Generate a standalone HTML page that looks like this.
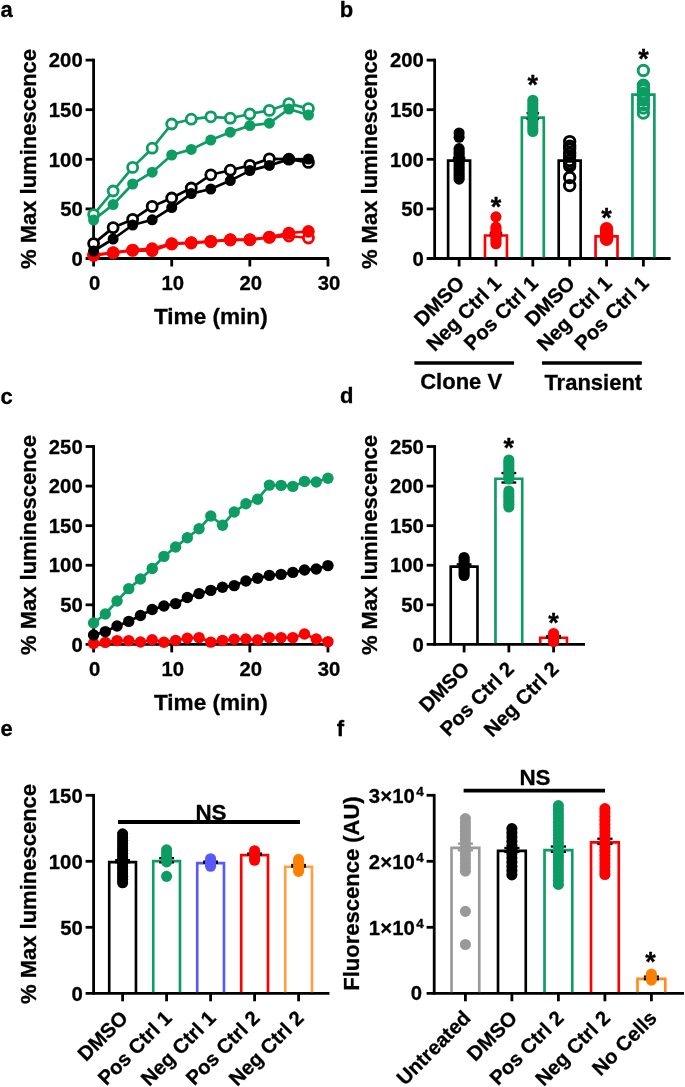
<!DOCTYPE html>
<html lang="en">
<head>
<meta charset="utf-8">
<title>Figure</title>
<style>
html,body{margin:0;padding:0;background:#fff;}
body{width:685px;height:1087px;overflow:hidden;}
svg{display:block;}
svg text{font-family:"Liberation Sans", Arial, Helvetica, sans-serif;font-weight:bold;fill:#000;stroke:#000;stroke-width:0.3px;stroke-linejoin:round;}
</style>
</head>
<body>
<svg width="685" height="1087" viewBox="0 0 685 1087">
<rect width="685" height="1087" fill="#fff"/>
<text x="0.40" y="17.40" font-size="22" text-anchor="start">a</text>
<text x="339.70" y="17.40" font-size="22" text-anchor="start">b</text>
<text x="0.60" y="403.60" font-size="22" text-anchor="start">c</text>
<text x="340.10" y="403.20" font-size="22" text-anchor="start">d</text>
<text x="0.60" y="736.40" font-size="22" text-anchor="start">e</text>
<text x="336.80" y="735.80" font-size="22" text-anchor="start">f</text>
<line x1="93.60" y1="58.70" x2="93.60" y2="259.90" stroke="#000000" stroke-width="2.8" stroke-linecap="butt"/>
<line x1="85.60" y1="258.50" x2="328.90" y2="258.50" stroke="#000000" stroke-width="2.8" stroke-linecap="butt"/>
<text x="82.70" y="265.70" font-size="20.3" text-anchor="end">0</text>
<line x1="85.60" y1="208.90" x2="93.60" y2="208.90" stroke="#000000" stroke-width="2.8" stroke-linecap="butt"/>
<text x="82.70" y="216.10" font-size="20.3" text-anchor="end">50</text>
<line x1="85.60" y1="159.30" x2="93.60" y2="159.30" stroke="#000000" stroke-width="2.8" stroke-linecap="butt"/>
<text x="82.70" y="166.50" font-size="20.3" text-anchor="end">100</text>
<line x1="85.60" y1="109.70" x2="93.60" y2="109.70" stroke="#000000" stroke-width="2.8" stroke-linecap="butt"/>
<text x="82.70" y="116.90" font-size="20.3" text-anchor="end">150</text>
<line x1="85.60" y1="60.10" x2="93.60" y2="60.10" stroke="#000000" stroke-width="2.8" stroke-linecap="butt"/>
<text x="82.70" y="67.30" font-size="20.3" text-anchor="end">200</text>
<line x1="93.60" y1="258.50" x2="93.60" y2="266.50" stroke="#000000" stroke-width="2.8" stroke-linecap="butt"/>
<text x="94.60" y="289.80" font-size="20.3" text-anchor="middle">0</text>
<line x1="171.72" y1="258.50" x2="171.72" y2="266.50" stroke="#000000" stroke-width="2.8" stroke-linecap="butt"/>
<text x="172.72" y="289.80" font-size="20.3" text-anchor="middle">10</text>
<line x1="249.84" y1="258.50" x2="249.84" y2="266.50" stroke="#000000" stroke-width="2.8" stroke-linecap="butt"/>
<text x="250.84" y="289.80" font-size="20.3" text-anchor="middle">20</text>
<line x1="327.96" y1="258.50" x2="327.96" y2="266.50" stroke="#000000" stroke-width="2.8" stroke-linecap="butt"/>
<text x="328.96" y="289.80" font-size="20.3" text-anchor="middle">30</text>
<text x="36.20" y="159.00" font-size="22" text-anchor="middle" transform="rotate(-90 36.20 159.00)">% Max luminescence</text>
<text x="210.80" y="323.80" font-size="22.6" text-anchor="middle">Time (min)</text>
<polyline points="93.60,255.40 113.13,252.80 132.66,250.40 152.19,250.60 171.72,244.00 191.25,243.00 210.78,241.60 230.31,240.00 249.84,239.80 269.37,237.40 288.90,236.00 308.43,238.00" fill="none" stroke="#ff0000" stroke-width="2.7" stroke-linejoin="round"/>
<circle cx="93.60" cy="255.40" r="5.0" fill="#fff" stroke="#ff0000" stroke-width="2.8"/>
<circle cx="113.13" cy="252.80" r="5.0" fill="#fff" stroke="#ff0000" stroke-width="2.8"/>
<circle cx="132.66" cy="250.40" r="5.0" fill="#fff" stroke="#ff0000" stroke-width="2.8"/>
<circle cx="152.19" cy="250.60" r="5.0" fill="#fff" stroke="#ff0000" stroke-width="2.8"/>
<circle cx="171.72" cy="244.00" r="5.0" fill="#fff" stroke="#ff0000" stroke-width="2.8"/>
<circle cx="191.25" cy="243.00" r="5.0" fill="#fff" stroke="#ff0000" stroke-width="2.8"/>
<circle cx="210.78" cy="241.60" r="5.0" fill="#fff" stroke="#ff0000" stroke-width="2.8"/>
<circle cx="230.31" cy="240.00" r="5.0" fill="#fff" stroke="#ff0000" stroke-width="2.8"/>
<circle cx="249.84" cy="239.80" r="5.0" fill="#fff" stroke="#ff0000" stroke-width="2.8"/>
<circle cx="269.37" cy="237.40" r="5.0" fill="#fff" stroke="#ff0000" stroke-width="2.8"/>
<circle cx="288.90" cy="236.00" r="5.0" fill="#fff" stroke="#ff0000" stroke-width="2.8"/>
<circle cx="308.43" cy="238.00" r="5.0" fill="#fff" stroke="#ff0000" stroke-width="2.8"/>
<polyline points="93.60,255.00 113.13,252.60 132.66,250.00 152.19,248.60 171.72,243.60 191.25,242.60 210.78,241.30 230.31,239.60 249.84,239.60 269.37,237.00 288.90,233.00 308.43,231.40" fill="none" stroke="#ff0000" stroke-width="2.7" stroke-linejoin="round"/>
<circle cx="93.60" cy="255.00" r="6.3" fill="#ff0000"/>
<circle cx="113.13" cy="252.60" r="6.3" fill="#ff0000"/>
<circle cx="132.66" cy="250.00" r="6.3" fill="#ff0000"/>
<circle cx="152.19" cy="248.60" r="6.3" fill="#ff0000"/>
<circle cx="171.72" cy="243.60" r="6.3" fill="#ff0000"/>
<circle cx="191.25" cy="242.60" r="6.3" fill="#ff0000"/>
<circle cx="210.78" cy="241.30" r="6.3" fill="#ff0000"/>
<circle cx="230.31" cy="239.60" r="6.3" fill="#ff0000"/>
<circle cx="249.84" cy="239.60" r="6.3" fill="#ff0000"/>
<circle cx="269.37" cy="237.00" r="6.3" fill="#ff0000"/>
<circle cx="288.90" cy="233.00" r="6.3" fill="#ff0000"/>
<circle cx="308.43" cy="231.40" r="6.3" fill="#ff0000"/>
<polyline points="93.60,243.60 113.13,227.60 132.66,219.40 152.19,206.40 171.72,198.00 191.25,188.00 210.78,174.80 230.31,170.20 249.84,165.40 269.37,158.80 288.90,159.20 308.43,162.40" fill="none" stroke="#000000" stroke-width="2.7" stroke-linejoin="round"/>
<circle cx="93.60" cy="243.60" r="5.0" fill="#fff" stroke="#000000" stroke-width="2.8"/>
<circle cx="113.13" cy="227.60" r="5.0" fill="#fff" stroke="#000000" stroke-width="2.8"/>
<circle cx="132.66" cy="219.40" r="5.0" fill="#fff" stroke="#000000" stroke-width="2.8"/>
<circle cx="152.19" cy="206.40" r="5.0" fill="#fff" stroke="#000000" stroke-width="2.8"/>
<circle cx="171.72" cy="198.00" r="5.0" fill="#fff" stroke="#000000" stroke-width="2.8"/>
<circle cx="191.25" cy="188.00" r="5.0" fill="#fff" stroke="#000000" stroke-width="2.8"/>
<circle cx="210.78" cy="174.80" r="5.0" fill="#fff" stroke="#000000" stroke-width="2.8"/>
<circle cx="230.31" cy="170.20" r="5.0" fill="#fff" stroke="#000000" stroke-width="2.8"/>
<circle cx="249.84" cy="165.40" r="5.0" fill="#fff" stroke="#000000" stroke-width="2.8"/>
<circle cx="269.37" cy="158.80" r="5.0" fill="#fff" stroke="#000000" stroke-width="2.8"/>
<circle cx="288.90" cy="159.20" r="5.0" fill="#fff" stroke="#000000" stroke-width="2.8"/>
<circle cx="308.43" cy="162.40" r="5.0" fill="#fff" stroke="#000000" stroke-width="2.8"/>
<polyline points="93.60,251.00 113.13,239.00 132.66,225.00 152.19,219.80 171.72,207.60 191.25,193.60 210.78,189.00 230.31,180.60 249.84,170.60 269.37,165.40 288.90,159.40 308.43,159.00" fill="none" stroke="#000000" stroke-width="2.7" stroke-linejoin="round"/>
<circle cx="93.60" cy="251.00" r="5.5" fill="#000000"/>
<circle cx="113.13" cy="239.00" r="5.5" fill="#000000"/>
<circle cx="132.66" cy="225.00" r="5.5" fill="#000000"/>
<circle cx="152.19" cy="219.80" r="5.5" fill="#000000"/>
<circle cx="171.72" cy="207.60" r="5.5" fill="#000000"/>
<circle cx="191.25" cy="193.60" r="5.5" fill="#000000"/>
<circle cx="210.78" cy="189.00" r="5.5" fill="#000000"/>
<circle cx="230.31" cy="180.60" r="5.5" fill="#000000"/>
<circle cx="249.84" cy="170.60" r="5.5" fill="#000000"/>
<circle cx="269.37" cy="165.40" r="5.5" fill="#000000"/>
<circle cx="288.90" cy="159.40" r="5.5" fill="#000000"/>
<circle cx="308.43" cy="159.00" r="5.5" fill="#000000"/>
<polyline points="93.60,214.60 113.13,191.00 132.66,167.40 152.19,148.20 171.72,124.00 191.25,119.20 210.78,116.80 230.31,118.20 249.84,114.00 269.37,110.40 288.90,103.60 308.43,108.60" fill="none" stroke="#0d9c64" stroke-width="2.7" stroke-linejoin="round"/>
<circle cx="93.60" cy="214.60" r="5.0" fill="#fff" stroke="#0d9c64" stroke-width="2.8"/>
<circle cx="113.13" cy="191.00" r="5.0" fill="#fff" stroke="#0d9c64" stroke-width="2.8"/>
<circle cx="132.66" cy="167.40" r="5.0" fill="#fff" stroke="#0d9c64" stroke-width="2.8"/>
<circle cx="152.19" cy="148.20" r="5.0" fill="#fff" stroke="#0d9c64" stroke-width="2.8"/>
<circle cx="171.72" cy="124.00" r="5.0" fill="#fff" stroke="#0d9c64" stroke-width="2.8"/>
<circle cx="191.25" cy="119.20" r="5.0" fill="#fff" stroke="#0d9c64" stroke-width="2.8"/>
<circle cx="210.78" cy="116.80" r="5.0" fill="#fff" stroke="#0d9c64" stroke-width="2.8"/>
<circle cx="230.31" cy="118.20" r="5.0" fill="#fff" stroke="#0d9c64" stroke-width="2.8"/>
<circle cx="249.84" cy="114.00" r="5.0" fill="#fff" stroke="#0d9c64" stroke-width="2.8"/>
<circle cx="269.37" cy="110.40" r="5.0" fill="#fff" stroke="#0d9c64" stroke-width="2.8"/>
<circle cx="288.90" cy="103.60" r="5.0" fill="#fff" stroke="#0d9c64" stroke-width="2.8"/>
<circle cx="308.43" cy="108.60" r="5.0" fill="#fff" stroke="#0d9c64" stroke-width="2.8"/>
<polyline points="93.60,220.00 113.13,204.60 132.66,184.00 152.19,172.20 171.72,155.00 191.25,149.40 210.78,140.00 230.31,132.20 249.84,125.60 269.37,123.20 288.90,109.00 308.43,115.00" fill="none" stroke="#0d9c64" stroke-width="2.7" stroke-linejoin="round"/>
<circle cx="93.60" cy="220.00" r="5.5" fill="#0d9c64"/>
<circle cx="113.13" cy="204.60" r="5.5" fill="#0d9c64"/>
<circle cx="132.66" cy="184.00" r="5.5" fill="#0d9c64"/>
<circle cx="152.19" cy="172.20" r="5.5" fill="#0d9c64"/>
<circle cx="171.72" cy="155.00" r="5.5" fill="#0d9c64"/>
<circle cx="191.25" cy="149.40" r="5.5" fill="#0d9c64"/>
<circle cx="210.78" cy="140.00" r="5.5" fill="#0d9c64"/>
<circle cx="230.31" cy="132.20" r="5.5" fill="#0d9c64"/>
<circle cx="249.84" cy="125.60" r="5.5" fill="#0d9c64"/>
<circle cx="269.37" cy="123.20" r="5.5" fill="#0d9c64"/>
<circle cx="288.90" cy="109.00" r="5.5" fill="#0d9c64"/>
<circle cx="308.43" cy="115.00" r="5.5" fill="#0d9c64"/>
<line x1="434.65" y1="58.70" x2="434.65" y2="259.90" stroke="#000000" stroke-width="2.8" stroke-linecap="butt"/>
<line x1="426.65" y1="258.50" x2="670.60" y2="258.50" stroke="#000000" stroke-width="2.8" stroke-linecap="butt"/>
<text x="423.90" y="265.70" font-size="20.3" text-anchor="end">0</text>
<line x1="426.65" y1="208.90" x2="434.65" y2="208.90" stroke="#000000" stroke-width="2.8" stroke-linecap="butt"/>
<text x="423.90" y="216.10" font-size="20.3" text-anchor="end">50</text>
<line x1="426.65" y1="159.30" x2="434.65" y2="159.30" stroke="#000000" stroke-width="2.8" stroke-linecap="butt"/>
<text x="423.90" y="166.50" font-size="20.3" text-anchor="end">100</text>
<line x1="426.65" y1="109.70" x2="434.65" y2="109.70" stroke="#000000" stroke-width="2.8" stroke-linecap="butt"/>
<text x="423.90" y="116.90" font-size="20.3" text-anchor="end">150</text>
<line x1="426.65" y1="60.10" x2="434.65" y2="60.10" stroke="#000000" stroke-width="2.8" stroke-linecap="butt"/>
<text x="423.90" y="67.30" font-size="20.3" text-anchor="end">200</text>
<line x1="459.10" y1="258.50" x2="459.10" y2="266.50" stroke="#000000" stroke-width="2.8" stroke-linecap="butt"/>
<line x1="495.96" y1="258.50" x2="495.96" y2="266.50" stroke="#000000" stroke-width="2.8" stroke-linecap="butt"/>
<line x1="532.82" y1="258.50" x2="532.82" y2="266.50" stroke="#000000" stroke-width="2.8" stroke-linecap="butt"/>
<line x1="569.68" y1="258.50" x2="569.68" y2="266.50" stroke="#000000" stroke-width="2.8" stroke-linecap="butt"/>
<line x1="606.54" y1="258.50" x2="606.54" y2="266.50" stroke="#000000" stroke-width="2.8" stroke-linecap="butt"/>
<line x1="643.40" y1="258.50" x2="643.40" y2="266.50" stroke="#000000" stroke-width="2.8" stroke-linecap="butt"/>
<text x="377.20" y="159.00" font-size="22" text-anchor="middle" transform="rotate(-90 377.20 159.00)">% Max luminescence</text>
<path d="M448.12 257.40 V160.62 H470.08 V257.40" fill="none" stroke="#000000" stroke-width="2.65"/>
<line x1="459.10" y1="160.29" x2="459.10" y2="157.91" stroke="#000000" stroke-width="2.3" stroke-linecap="butt"/>
<line x1="452.85" y1="160.29" x2="465.35" y2="160.29" stroke="#000000" stroke-width="2.3" stroke-linecap="butt"/>
<line x1="452.85" y1="157.91" x2="465.35" y2="157.91" stroke="#000000" stroke-width="2.3" stroke-linecap="butt"/>
<circle cx="459.10" cy="133.01" r="5.55" fill="#000000"/>
<circle cx="459.10" cy="137.28" r="5.55" fill="#000000"/>
<circle cx="459.10" cy="148.59" r="5.55" fill="#000000"/>
<circle cx="459.10" cy="150.94" r="5.55" fill="#000000"/>
<circle cx="459.10" cy="153.29" r="5.55" fill="#000000"/>
<circle cx="459.10" cy="155.64" r="5.55" fill="#000000"/>
<circle cx="459.10" cy="157.99" r="5.55" fill="#000000"/>
<circle cx="459.10" cy="160.34" r="5.55" fill="#000000"/>
<circle cx="459.10" cy="162.69" r="5.55" fill="#000000"/>
<circle cx="459.10" cy="165.04" r="5.55" fill="#000000"/>
<circle cx="459.10" cy="167.39" r="5.55" fill="#000000"/>
<circle cx="459.10" cy="169.74" r="5.55" fill="#000000"/>
<circle cx="459.10" cy="172.09" r="5.55" fill="#000000"/>
<circle cx="459.10" cy="174.44" r="5.55" fill="#000000"/>
<circle cx="459.10" cy="176.79" r="5.55" fill="#000000"/>
<circle cx="459.10" cy="179.14" r="5.55" fill="#000000"/>
<path d="M484.99 257.40 V235.52 H506.94 V257.40" fill="none" stroke="#ff0000" stroke-width="2.65"/>
<line x1="495.96" y1="235.19" x2="495.96" y2="232.81" stroke="#000000" stroke-width="2.3" stroke-linecap="butt"/>
<line x1="489.71" y1="235.19" x2="502.21" y2="235.19" stroke="#000000" stroke-width="2.3" stroke-linecap="butt"/>
<line x1="489.71" y1="232.81" x2="502.21" y2="232.81" stroke="#000000" stroke-width="2.3" stroke-linecap="butt"/>
<circle cx="495.96" cy="216.84" r="5.55" fill="#ff0000"/>
<circle cx="495.96" cy="227.15" r="5.55" fill="#ff0000"/>
<circle cx="495.96" cy="229.53" r="5.55" fill="#ff0000"/>
<circle cx="495.96" cy="231.91" r="5.55" fill="#ff0000"/>
<circle cx="495.96" cy="234.30" r="5.55" fill="#ff0000"/>
<circle cx="495.96" cy="236.68" r="5.55" fill="#ff0000"/>
<circle cx="495.96" cy="239.06" r="5.55" fill="#ff0000"/>
<circle cx="495.96" cy="241.44" r="5.55" fill="#ff0000"/>
<circle cx="495.96" cy="243.82" r="5.55" fill="#ff0000"/>
<path d="M521.85 257.40 V117.57 H543.79 V257.40" fill="none" stroke="#0d9c64" stroke-width="2.65"/>
<line x1="532.82" y1="118.92" x2="532.82" y2="113.17" stroke="#000000" stroke-width="2.3" stroke-linecap="butt"/>
<line x1="526.57" y1="118.92" x2="539.07" y2="118.92" stroke="#000000" stroke-width="2.3" stroke-linecap="butt"/>
<line x1="526.57" y1="113.17" x2="539.07" y2="113.17" stroke="#000000" stroke-width="2.3" stroke-linecap="butt"/>
<circle cx="532.82" cy="100.28" r="5.55" fill="#0d9c64"/>
<circle cx="532.82" cy="103.12" r="5.55" fill="#0d9c64"/>
<circle cx="532.82" cy="105.96" r="5.55" fill="#0d9c64"/>
<circle cx="532.82" cy="108.80" r="5.55" fill="#0d9c64"/>
<circle cx="532.82" cy="111.64" r="5.55" fill="#0d9c64"/>
<circle cx="532.82" cy="114.48" r="5.55" fill="#0d9c64"/>
<circle cx="532.82" cy="117.32" r="5.55" fill="#0d9c64"/>
<circle cx="532.82" cy="120.16" r="5.55" fill="#0d9c64"/>
<circle cx="532.82" cy="123.00" r="5.55" fill="#0d9c64"/>
<circle cx="532.82" cy="125.84" r="5.55" fill="#0d9c64"/>
<circle cx="532.82" cy="128.68" r="5.55" fill="#0d9c64"/>
<circle cx="532.82" cy="131.52" r="5.55" fill="#0d9c64"/>
<path d="M558.71 257.40 V160.62 H580.65 V257.40" fill="none" stroke="#000000" stroke-width="2.65"/>
<line x1="569.68" y1="160.29" x2="569.68" y2="157.91" stroke="#000000" stroke-width="2.3" stroke-linecap="butt"/>
<line x1="563.43" y1="160.29" x2="575.93" y2="160.29" stroke="#000000" stroke-width="2.3" stroke-linecap="butt"/>
<line x1="563.43" y1="157.91" x2="575.93" y2="157.91" stroke="#000000" stroke-width="2.3" stroke-linecap="butt"/>
<circle cx="569.68" cy="141.60" r="5.25" fill="none" stroke="#000000" stroke-width="2.9"/>
<circle cx="569.68" cy="146.20" r="5.25" fill="none" stroke="#000000" stroke-width="2.9"/>
<circle cx="569.68" cy="148.70" r="5.25" fill="none" stroke="#000000" stroke-width="2.9"/>
<circle cx="569.68" cy="153.20" r="5.25" fill="none" stroke="#000000" stroke-width="2.9"/>
<circle cx="569.68" cy="156.00" r="5.25" fill="none" stroke="#000000" stroke-width="2.9"/>
<circle cx="569.68" cy="160.50" r="5.25" fill="none" stroke="#000000" stroke-width="2.9"/>
<circle cx="569.68" cy="163.50" r="5.25" fill="none" stroke="#000000" stroke-width="2.9"/>
<circle cx="569.68" cy="166.00" r="5.25" fill="none" stroke="#000000" stroke-width="2.9"/>
<circle cx="569.68" cy="177.50" r="5.25" fill="none" stroke="#000000" stroke-width="2.9"/>
<circle cx="569.68" cy="185.60" r="5.25" fill="none" stroke="#000000" stroke-width="2.9"/>
<path d="M595.57 257.40 V236.31 H617.51 V257.40" fill="none" stroke="#ff0000" stroke-width="2.65"/>
<line x1="606.54" y1="235.78" x2="606.54" y2="233.80" stroke="#000000" stroke-width="2.3" stroke-linecap="butt"/>
<line x1="600.29" y1="235.78" x2="612.79" y2="235.78" stroke="#000000" stroke-width="2.3" stroke-linecap="butt"/>
<line x1="600.29" y1="233.80" x2="612.79" y2="233.80" stroke="#000000" stroke-width="2.3" stroke-linecap="butt"/>
<circle cx="606.54" cy="228.70" r="5.25" fill="none" stroke="#ff0000" stroke-width="2.9"/>
<circle cx="606.54" cy="231.00" r="5.25" fill="none" stroke="#ff0000" stroke-width="2.9"/>
<circle cx="606.54" cy="233.00" r="5.25" fill="none" stroke="#ff0000" stroke-width="2.9"/>
<circle cx="606.54" cy="235.30" r="5.25" fill="none" stroke="#ff0000" stroke-width="2.9"/>
<circle cx="606.54" cy="237.20" r="5.25" fill="none" stroke="#ff0000" stroke-width="2.9"/>
<circle cx="606.54" cy="239.20" r="5.25" fill="none" stroke="#ff0000" stroke-width="2.9"/>
<path d="M632.43 257.40 V94.66 H654.38 V257.40" fill="none" stroke="#0d9c64" stroke-width="2.65"/>
<line x1="643.40" y1="94.62" x2="643.40" y2="91.64" stroke="#000000" stroke-width="2.3" stroke-linecap="butt"/>
<line x1="637.15" y1="94.62" x2="649.65" y2="94.62" stroke="#000000" stroke-width="2.3" stroke-linecap="butt"/>
<line x1="637.15" y1="91.64" x2="649.65" y2="91.64" stroke="#000000" stroke-width="2.3" stroke-linecap="butt"/>
<circle cx="643.40" cy="70.50" r="5.25" fill="none" stroke="#0d9c64" stroke-width="2.9"/>
<circle cx="643.40" cy="85.20" r="5.25" fill="none" stroke="#0d9c64" stroke-width="2.9"/>
<circle cx="643.40" cy="87.50" r="5.25" fill="none" stroke="#0d9c64" stroke-width="2.9"/>
<circle cx="643.40" cy="90.00" r="5.25" fill="none" stroke="#0d9c64" stroke-width="2.9"/>
<circle cx="643.40" cy="93.50" r="5.25" fill="none" stroke="#0d9c64" stroke-width="2.9"/>
<circle cx="643.40" cy="96.00" r="5.25" fill="none" stroke="#0d9c64" stroke-width="2.9"/>
<circle cx="643.40" cy="100.00" r="5.25" fill="none" stroke="#0d9c64" stroke-width="2.9"/>
<circle cx="643.40" cy="104.50" r="5.25" fill="none" stroke="#0d9c64" stroke-width="2.9"/>
<circle cx="643.40" cy="108.00" r="5.25" fill="none" stroke="#0d9c64" stroke-width="2.9"/>
<circle cx="643.40" cy="113.10" r="5.25" fill="none" stroke="#0d9c64" stroke-width="2.9"/>
<text x="495.96" y="215.50" font-size="27" text-anchor="middle">*</text>
<text x="532.82" y="93.70" font-size="27" text-anchor="middle">*</text>
<text x="606.54" y="226.70" font-size="27" text-anchor="middle">*</text>
<text x="643.40" y="67.80" font-size="27" text-anchor="middle">*</text>
<text x="465.60" y="284.50" font-size="20.3" text-anchor="end" transform="rotate(-45 465.60 284.50)">DMSO</text>
<text x="502.46" y="284.50" font-size="20.3" text-anchor="end" transform="rotate(-45 502.46 284.50)">Neg Ctrl 1</text>
<text x="539.32" y="284.50" font-size="20.3" text-anchor="end" transform="rotate(-45 539.32 284.50)">Pos Ctrl 1</text>
<text x="576.18" y="284.50" font-size="20.3" text-anchor="end" transform="rotate(-45 576.18 284.50)">DMSO</text>
<text x="613.04" y="284.50" font-size="20.3" text-anchor="end" transform="rotate(-45 613.04 284.50)">Neg Ctrl 1</text>
<text x="649.90" y="284.50" font-size="20.3" text-anchor="end" transform="rotate(-45 649.90 284.50)">Pos Ctrl 1</text>
<line x1="414.40" y1="363.00" x2="514.00" y2="363.00" stroke="#000000" stroke-width="3.6" stroke-linecap="butt"/>
<line x1="542.00" y1="363.00" x2="641.80" y2="363.00" stroke="#000000" stroke-width="3.6" stroke-linecap="butt"/>
<text x="461.20" y="389.20" font-size="22" text-anchor="middle">Clone V</text>
<text x="593.30" y="390.40" font-size="22" text-anchor="middle">Transient</text>
<line x1="93.60" y1="445.10" x2="93.60" y2="645.80" stroke="#000000" stroke-width="2.8" stroke-linecap="butt"/>
<line x1="85.60" y1="644.40" x2="328.90" y2="644.40" stroke="#000000" stroke-width="2.8" stroke-linecap="butt"/>
<text x="82.70" y="651.60" font-size="20.3" text-anchor="end">0</text>
<line x1="85.60" y1="604.82" x2="93.60" y2="604.82" stroke="#000000" stroke-width="2.8" stroke-linecap="butt"/>
<text x="82.70" y="612.02" font-size="20.3" text-anchor="end">50</text>
<line x1="85.60" y1="565.24" x2="93.60" y2="565.24" stroke="#000000" stroke-width="2.8" stroke-linecap="butt"/>
<text x="82.70" y="572.44" font-size="20.3" text-anchor="end">100</text>
<line x1="85.60" y1="525.66" x2="93.60" y2="525.66" stroke="#000000" stroke-width="2.8" stroke-linecap="butt"/>
<text x="82.70" y="532.86" font-size="20.3" text-anchor="end">150</text>
<line x1="85.60" y1="486.08" x2="93.60" y2="486.08" stroke="#000000" stroke-width="2.8" stroke-linecap="butt"/>
<text x="82.70" y="493.28" font-size="20.3" text-anchor="end">200</text>
<line x1="85.60" y1="446.50" x2="93.60" y2="446.50" stroke="#000000" stroke-width="2.8" stroke-linecap="butt"/>
<text x="82.70" y="453.70" font-size="20.3" text-anchor="end">250</text>
<line x1="93.60" y1="644.40" x2="93.60" y2="652.40" stroke="#000000" stroke-width="2.8" stroke-linecap="butt"/>
<text x="94.60" y="675.60" font-size="20.3" text-anchor="middle">0</text>
<line x1="171.72" y1="644.40" x2="171.72" y2="652.40" stroke="#000000" stroke-width="2.8" stroke-linecap="butt"/>
<text x="172.72" y="675.60" font-size="20.3" text-anchor="middle">10</text>
<line x1="249.84" y1="644.40" x2="249.84" y2="652.40" stroke="#000000" stroke-width="2.8" stroke-linecap="butt"/>
<text x="250.84" y="675.60" font-size="20.3" text-anchor="middle">20</text>
<line x1="327.96" y1="644.40" x2="327.96" y2="652.40" stroke="#000000" stroke-width="2.8" stroke-linecap="butt"/>
<text x="328.96" y="675.60" font-size="20.3" text-anchor="middle">30</text>
<text x="36.20" y="545.00" font-size="22" text-anchor="middle" transform="rotate(-90 36.20 545.00)">% Max luminescence</text>
<text x="210.80" y="710.20" font-size="22.6" text-anchor="middle">Time (min)</text>
<polyline points="93.60,643.40 105.32,642.40 117.04,640.60 128.75,640.60 140.47,642.00 152.19,639.80 163.91,642.20 175.63,640.40 187.34,638.20 199.06,637.60 210.78,642.10 222.50,640.40 234.22,639.30 245.93,639.00 257.65,640.00 269.37,637.60 281.09,637.60 292.81,637.60 304.52,634.00 316.24,639.00 327.96,641.60" fill="none" stroke="#ff0000" stroke-width="2.7" stroke-linejoin="round"/>
<circle cx="93.60" cy="643.40" r="5.7" fill="#ff0000"/>
<circle cx="105.32" cy="642.40" r="5.7" fill="#ff0000"/>
<circle cx="117.04" cy="640.60" r="5.7" fill="#ff0000"/>
<circle cx="128.75" cy="640.60" r="5.7" fill="#ff0000"/>
<circle cx="140.47" cy="642.00" r="5.7" fill="#ff0000"/>
<circle cx="152.19" cy="639.80" r="5.7" fill="#ff0000"/>
<circle cx="163.91" cy="642.20" r="5.7" fill="#ff0000"/>
<circle cx="175.63" cy="640.40" r="5.7" fill="#ff0000"/>
<circle cx="187.34" cy="638.20" r="5.7" fill="#ff0000"/>
<circle cx="199.06" cy="637.60" r="5.7" fill="#ff0000"/>
<circle cx="210.78" cy="642.10" r="5.7" fill="#ff0000"/>
<circle cx="222.50" cy="640.40" r="5.7" fill="#ff0000"/>
<circle cx="234.22" cy="639.30" r="5.7" fill="#ff0000"/>
<circle cx="245.93" cy="639.00" r="5.7" fill="#ff0000"/>
<circle cx="257.65" cy="640.00" r="5.7" fill="#ff0000"/>
<circle cx="269.37" cy="637.60" r="5.7" fill="#ff0000"/>
<circle cx="281.09" cy="637.60" r="5.7" fill="#ff0000"/>
<circle cx="292.81" cy="637.60" r="5.7" fill="#ff0000"/>
<circle cx="304.52" cy="634.00" r="5.7" fill="#ff0000"/>
<circle cx="316.24" cy="639.00" r="5.7" fill="#ff0000"/>
<circle cx="327.96" cy="641.60" r="5.7" fill="#ff0000"/>
<polyline points="93.60,635.00 105.32,631.60 117.04,626.00 128.75,621.40 140.47,615.50 152.19,609.50 163.91,606.00 175.63,603.60 187.34,597.50 199.06,593.60 210.78,590.40 222.50,587.20 234.22,585.60 245.93,581.00 257.65,578.20 269.37,575.40 281.09,574.40 292.81,572.40 304.52,570.00 316.24,569.00 327.96,565.60" fill="none" stroke="#000000" stroke-width="2.7" stroke-linejoin="round"/>
<circle cx="93.60" cy="635.00" r="5.7" fill="#000000"/>
<circle cx="105.32" cy="631.60" r="5.7" fill="#000000"/>
<circle cx="117.04" cy="626.00" r="5.7" fill="#000000"/>
<circle cx="128.75" cy="621.40" r="5.7" fill="#000000"/>
<circle cx="140.47" cy="615.50" r="5.7" fill="#000000"/>
<circle cx="152.19" cy="609.50" r="5.7" fill="#000000"/>
<circle cx="163.91" cy="606.00" r="5.7" fill="#000000"/>
<circle cx="175.63" cy="603.60" r="5.7" fill="#000000"/>
<circle cx="187.34" cy="597.50" r="5.7" fill="#000000"/>
<circle cx="199.06" cy="593.60" r="5.7" fill="#000000"/>
<circle cx="210.78" cy="590.40" r="5.7" fill="#000000"/>
<circle cx="222.50" cy="587.20" r="5.7" fill="#000000"/>
<circle cx="234.22" cy="585.60" r="5.7" fill="#000000"/>
<circle cx="245.93" cy="581.00" r="5.7" fill="#000000"/>
<circle cx="257.65" cy="578.20" r="5.7" fill="#000000"/>
<circle cx="269.37" cy="575.40" r="5.7" fill="#000000"/>
<circle cx="281.09" cy="574.40" r="5.7" fill="#000000"/>
<circle cx="292.81" cy="572.40" r="5.7" fill="#000000"/>
<circle cx="304.52" cy="570.00" r="5.7" fill="#000000"/>
<circle cx="316.24" cy="569.00" r="5.7" fill="#000000"/>
<circle cx="327.96" cy="565.60" r="5.7" fill="#000000"/>
<polyline points="93.60,623.00 105.32,614.00 117.04,601.00 128.75,588.60 140.47,579.00 152.19,568.50 163.91,556.40 175.63,547.00 187.34,537.80 199.06,528.80 210.78,516.00 222.50,525.20 234.22,512.00 245.93,503.80 257.65,499.20 269.37,485.10 281.09,485.40 292.81,486.40 304.52,481.40 316.24,482.00 327.96,478.20" fill="none" stroke="#0d9c64" stroke-width="2.7" stroke-linejoin="round"/>
<circle cx="93.60" cy="623.00" r="5.7" fill="#0d9c64"/>
<circle cx="105.32" cy="614.00" r="5.7" fill="#0d9c64"/>
<circle cx="117.04" cy="601.00" r="5.7" fill="#0d9c64"/>
<circle cx="128.75" cy="588.60" r="5.7" fill="#0d9c64"/>
<circle cx="140.47" cy="579.00" r="5.7" fill="#0d9c64"/>
<circle cx="152.19" cy="568.50" r="5.7" fill="#0d9c64"/>
<circle cx="163.91" cy="556.40" r="5.7" fill="#0d9c64"/>
<circle cx="175.63" cy="547.00" r="5.7" fill="#0d9c64"/>
<circle cx="187.34" cy="537.80" r="5.7" fill="#0d9c64"/>
<circle cx="199.06" cy="528.80" r="5.7" fill="#0d9c64"/>
<circle cx="210.78" cy="516.00" r="5.7" fill="#0d9c64"/>
<circle cx="222.50" cy="525.20" r="5.7" fill="#0d9c64"/>
<circle cx="234.22" cy="512.00" r="5.7" fill="#0d9c64"/>
<circle cx="245.93" cy="503.80" r="5.7" fill="#0d9c64"/>
<circle cx="257.65" cy="499.20" r="5.7" fill="#0d9c64"/>
<circle cx="269.37" cy="485.10" r="5.7" fill="#0d9c64"/>
<circle cx="281.09" cy="485.40" r="5.7" fill="#0d9c64"/>
<circle cx="292.81" cy="486.40" r="5.7" fill="#0d9c64"/>
<circle cx="304.52" cy="481.40" r="5.7" fill="#0d9c64"/>
<circle cx="316.24" cy="482.00" r="5.7" fill="#0d9c64"/>
<circle cx="327.96" cy="478.20" r="5.7" fill="#0d9c64"/>
<line x1="434.65" y1="445.10" x2="434.65" y2="645.80" stroke="#000000" stroke-width="2.8" stroke-linecap="butt"/>
<line x1="426.65" y1="644.40" x2="585.00" y2="644.40" stroke="#000000" stroke-width="2.8" stroke-linecap="butt"/>
<text x="423.90" y="651.60" font-size="20.3" text-anchor="end">0</text>
<line x1="426.65" y1="604.82" x2="434.65" y2="604.82" stroke="#000000" stroke-width="2.8" stroke-linecap="butt"/>
<text x="423.90" y="612.02" font-size="20.3" text-anchor="end">50</text>
<line x1="426.65" y1="565.24" x2="434.65" y2="565.24" stroke="#000000" stroke-width="2.8" stroke-linecap="butt"/>
<text x="423.90" y="572.44" font-size="20.3" text-anchor="end">100</text>
<line x1="426.65" y1="525.66" x2="434.65" y2="525.66" stroke="#000000" stroke-width="2.8" stroke-linecap="butt"/>
<text x="423.90" y="532.86" font-size="20.3" text-anchor="end">150</text>
<line x1="426.65" y1="486.08" x2="434.65" y2="486.08" stroke="#000000" stroke-width="2.8" stroke-linecap="butt"/>
<text x="423.90" y="493.28" font-size="20.3" text-anchor="end">200</text>
<line x1="426.65" y1="446.50" x2="434.65" y2="446.50" stroke="#000000" stroke-width="2.8" stroke-linecap="butt"/>
<text x="423.90" y="453.70" font-size="20.3" text-anchor="end">250</text>
<line x1="464.10" y1="644.40" x2="464.10" y2="652.40" stroke="#000000" stroke-width="2.8" stroke-linecap="butt"/>
<line x1="508.85" y1="644.40" x2="508.85" y2="652.40" stroke="#000000" stroke-width="2.8" stroke-linecap="butt"/>
<line x1="553.60" y1="644.40" x2="553.60" y2="652.40" stroke="#000000" stroke-width="2.8" stroke-linecap="butt"/>
<text x="377.20" y="545.00" font-size="22" text-anchor="middle" transform="rotate(-90 377.20 545.00)">% Max luminescence</text>
<path d="M450.73 643.30 V566.57 H477.48 V643.30" fill="none" stroke="#000000" stroke-width="2.65"/>
<line x1="464.10" y1="566.91" x2="464.10" y2="564.37" stroke="#000000" stroke-width="2.3" stroke-linecap="butt"/>
<line x1="456.70" y1="566.91" x2="471.50" y2="566.91" stroke="#000000" stroke-width="2.3" stroke-linecap="butt"/>
<line x1="456.70" y1="564.37" x2="471.50" y2="564.37" stroke="#000000" stroke-width="2.3" stroke-linecap="butt"/>
<circle cx="464.10" cy="557.48" r="5.55" fill="#000000"/>
<circle cx="464.10" cy="559.74" r="5.55" fill="#000000"/>
<circle cx="464.10" cy="561.99" r="5.55" fill="#000000"/>
<circle cx="464.10" cy="564.25" r="5.55" fill="#000000"/>
<circle cx="464.10" cy="566.51" r="5.55" fill="#000000"/>
<circle cx="464.10" cy="568.76" r="5.55" fill="#000000"/>
<circle cx="464.10" cy="571.02" r="5.55" fill="#000000"/>
<circle cx="464.10" cy="573.27" r="5.55" fill="#000000"/>
<circle cx="464.10" cy="575.53" r="5.55" fill="#000000"/>
<path d="M495.48 643.30 V478.70 H522.23 V643.30" fill="none" stroke="#0d9c64" stroke-width="2.65"/>
<line x1="508.85" y1="482.52" x2="508.85" y2="473.02" stroke="#000000" stroke-width="2.3" stroke-linecap="butt"/>
<line x1="501.45" y1="482.52" x2="516.25" y2="482.52" stroke="#000000" stroke-width="2.3" stroke-linecap="butt"/>
<line x1="501.45" y1="473.02" x2="516.25" y2="473.02" stroke="#000000" stroke-width="2.3" stroke-linecap="butt"/>
<circle cx="508.85" cy="459.96" r="5.55" fill="#0d9c64"/>
<circle cx="508.85" cy="462.33" r="5.55" fill="#0d9c64"/>
<circle cx="508.85" cy="464.71" r="5.55" fill="#0d9c64"/>
<circle cx="508.85" cy="467.08" r="5.55" fill="#0d9c64"/>
<circle cx="508.85" cy="469.46" r="5.55" fill="#0d9c64"/>
<circle cx="508.85" cy="471.83" r="5.55" fill="#0d9c64"/>
<circle cx="508.85" cy="474.21" r="5.55" fill="#0d9c64"/>
<circle cx="508.85" cy="476.58" r="5.55" fill="#0d9c64"/>
<circle cx="508.85" cy="478.96" r="5.55" fill="#0d9c64"/>
<circle cx="508.85" cy="490.99" r="5.55" fill="#0d9c64"/>
<circle cx="508.85" cy="493.65" r="5.55" fill="#0d9c64"/>
<circle cx="508.85" cy="496.32" r="5.55" fill="#0d9c64"/>
<circle cx="508.85" cy="498.98" r="5.55" fill="#0d9c64"/>
<circle cx="508.85" cy="501.65" r="5.55" fill="#0d9c64"/>
<circle cx="508.85" cy="504.31" r="5.55" fill="#0d9c64"/>
<circle cx="508.85" cy="506.98" r="5.55" fill="#0d9c64"/>
<path d="M540.23 643.30 V637.73 H566.98 V643.30" fill="none" stroke="#ff0000" stroke-width="2.65"/>
<line x1="553.60" y1="637.60" x2="553.60" y2="636.01" stroke="#000000" stroke-width="2.3" stroke-linecap="butt"/>
<line x1="546.20" y1="637.60" x2="561.00" y2="637.60" stroke="#000000" stroke-width="2.3" stroke-linecap="butt"/>
<line x1="546.20" y1="636.01" x2="561.00" y2="636.01" stroke="#000000" stroke-width="2.3" stroke-linecap="butt"/>
<circle cx="553.60" cy="633.48" r="5.55" fill="#ff0000"/>
<circle cx="553.60" cy="635.49" r="5.55" fill="#ff0000"/>
<circle cx="553.60" cy="637.51" r="5.55" fill="#ff0000"/>
<circle cx="553.60" cy="639.53" r="5.55" fill="#ff0000"/>
<circle cx="553.60" cy="641.55" r="5.55" fill="#ff0000"/>
<text x="508.85" y="456.70" font-size="27" text-anchor="middle">*</text>
<text x="553.60" y="632.40" font-size="27" text-anchor="middle">*</text>
<text x="470.60" y="670.30" font-size="20.3" text-anchor="end" transform="rotate(-45 470.60 670.30)">DMSO</text>
<text x="515.35" y="670.30" font-size="20.3" text-anchor="end" transform="rotate(-45 515.35 670.30)">Pos Ctrl 2</text>
<text x="560.10" y="670.30" font-size="20.3" text-anchor="end" transform="rotate(-45 560.10 670.30)">Neg Ctrl 2</text>
<line x1="93.60" y1="793.90" x2="93.60" y2="994.70" stroke="#000000" stroke-width="2.8" stroke-linecap="butt"/>
<line x1="85.60" y1="993.30" x2="329.40" y2="993.30" stroke="#000000" stroke-width="2.8" stroke-linecap="butt"/>
<text x="82.70" y="1000.50" font-size="20.3" text-anchor="end">0</text>
<line x1="85.60" y1="927.30" x2="93.60" y2="927.30" stroke="#000000" stroke-width="2.8" stroke-linecap="butt"/>
<text x="82.70" y="934.50" font-size="20.3" text-anchor="end">50</text>
<line x1="85.60" y1="861.30" x2="93.60" y2="861.30" stroke="#000000" stroke-width="2.8" stroke-linecap="butt"/>
<text x="82.70" y="868.50" font-size="20.3" text-anchor="end">100</text>
<line x1="85.60" y1="795.30" x2="93.60" y2="795.30" stroke="#000000" stroke-width="2.8" stroke-linecap="butt"/>
<text x="82.70" y="802.50" font-size="20.3" text-anchor="end">150</text>
<line x1="122.60" y1="993.30" x2="122.60" y2="1001.30" stroke="#000000" stroke-width="2.8" stroke-linecap="butt"/>
<line x1="166.60" y1="993.30" x2="166.60" y2="1001.30" stroke="#000000" stroke-width="2.8" stroke-linecap="butt"/>
<line x1="210.60" y1="993.30" x2="210.60" y2="1001.30" stroke="#000000" stroke-width="2.8" stroke-linecap="butt"/>
<line x1="254.60" y1="993.30" x2="254.60" y2="1001.30" stroke="#000000" stroke-width="2.8" stroke-linecap="butt"/>
<line x1="298.60" y1="993.30" x2="298.60" y2="1001.30" stroke="#000000" stroke-width="2.8" stroke-linecap="butt"/>
<text x="36.20" y="894.00" font-size="22" text-anchor="middle" transform="rotate(-90 36.20 894.00)">% Max luminescence</text>
<path d="M109.22 992.20 V862.10 H135.97 V992.20" fill="none" stroke="#000000" stroke-width="2.65"/>
<line x1="122.60" y1="862.23" x2="122.60" y2="860.12" stroke="#000000" stroke-width="2.3" stroke-linecap="butt"/>
<line x1="115.20" y1="862.23" x2="130.00" y2="862.23" stroke="#000000" stroke-width="2.3" stroke-linecap="butt"/>
<line x1="115.20" y1="860.12" x2="130.00" y2="860.12" stroke="#000000" stroke-width="2.3" stroke-linecap="butt"/>
<circle cx="122.60" cy="833.84" r="5.55" fill="#000000"/>
<circle cx="122.60" cy="837.11" r="5.55" fill="#000000"/>
<circle cx="122.60" cy="840.37" r="5.55" fill="#000000"/>
<circle cx="122.60" cy="843.64" r="5.55" fill="#000000"/>
<circle cx="122.60" cy="846.90" r="5.55" fill="#000000"/>
<circle cx="122.60" cy="850.17" r="5.55" fill="#000000"/>
<circle cx="122.60" cy="853.43" r="5.55" fill="#000000"/>
<circle cx="122.60" cy="856.70" r="5.55" fill="#000000"/>
<circle cx="122.60" cy="859.96" r="5.55" fill="#000000"/>
<circle cx="122.60" cy="863.23" r="5.55" fill="#000000"/>
<circle cx="122.60" cy="866.49" r="5.55" fill="#000000"/>
<circle cx="122.60" cy="869.76" r="5.55" fill="#000000"/>
<circle cx="122.60" cy="873.02" r="5.55" fill="#000000"/>
<circle cx="122.60" cy="876.29" r="5.55" fill="#000000"/>
<circle cx="122.60" cy="879.55" r="5.55" fill="#000000"/>
<circle cx="122.60" cy="882.82" r="5.55" fill="#000000"/>
<path d="M153.22 992.20 V861.17 H179.97 V992.20" fill="none" stroke="#0d9c64" stroke-width="2.65"/>
<line x1="166.60" y1="862.36" x2="166.60" y2="858.14" stroke="#000000" stroke-width="2.3" stroke-linecap="butt"/>
<line x1="159.20" y1="862.36" x2="174.00" y2="862.36" stroke="#000000" stroke-width="2.3" stroke-linecap="butt"/>
<line x1="159.20" y1="858.14" x2="174.00" y2="858.14" stroke="#000000" stroke-width="2.3" stroke-linecap="butt"/>
<circle cx="166.60" cy="849.82" r="5.55" fill="#0d9c64"/>
<circle cx="166.60" cy="852.82" r="5.55" fill="#0d9c64"/>
<circle cx="166.60" cy="855.82" r="5.55" fill="#0d9c64"/>
<circle cx="166.60" cy="858.82" r="5.55" fill="#0d9c64"/>
<circle cx="166.60" cy="861.83" r="5.55" fill="#0d9c64"/>
<circle cx="166.60" cy="876.35" r="5.55" fill="#0d9c64"/>
<path d="M197.22 992.20 V863.15 H223.97 V992.20" fill="none" stroke="#5959fa" stroke-width="2.65"/>
<line x1="210.60" y1="862.89" x2="210.60" y2="861.57" stroke="#000000" stroke-width="2.3" stroke-linecap="butt"/>
<line x1="203.20" y1="862.89" x2="218.00" y2="862.89" stroke="#000000" stroke-width="2.3" stroke-linecap="butt"/>
<line x1="203.20" y1="861.57" x2="218.00" y2="861.57" stroke="#000000" stroke-width="2.3" stroke-linecap="butt"/>
<circle cx="210.60" cy="858.79" r="5.55" fill="#5959fa"/>
<circle cx="210.60" cy="861.30" r="5.55" fill="#5959fa"/>
<circle cx="210.60" cy="863.81" r="5.55" fill="#5959fa"/>
<circle cx="210.60" cy="866.32" r="5.55" fill="#5959fa"/>
<path d="M241.22 992.20 V855.10 H267.98 V992.20" fill="none" stroke="#ff0000" stroke-width="2.65"/>
<line x1="254.60" y1="854.84" x2="254.60" y2="853.52" stroke="#000000" stroke-width="2.3" stroke-linecap="butt"/>
<line x1="247.20" y1="854.84" x2="262.00" y2="854.84" stroke="#000000" stroke-width="2.3" stroke-linecap="butt"/>
<line x1="247.20" y1="853.52" x2="262.00" y2="853.52" stroke="#000000" stroke-width="2.3" stroke-linecap="butt"/>
<circle cx="254.60" cy="850.74" r="5.55" fill="#ff0000"/>
<circle cx="254.60" cy="853.91" r="5.55" fill="#ff0000"/>
<circle cx="254.60" cy="857.08" r="5.55" fill="#ff0000"/>
<circle cx="254.60" cy="860.24" r="5.55" fill="#ff0000"/>
<path d="M285.23 992.20 V866.72 H311.98 V992.20" fill="none" stroke="#ffa040" stroke-width="2.65"/>
<line x1="298.60" y1="866.58" x2="298.60" y2="865.00" stroke="#000000" stroke-width="2.3" stroke-linecap="butt"/>
<line x1="291.20" y1="866.58" x2="306.00" y2="866.58" stroke="#000000" stroke-width="2.3" stroke-linecap="butt"/>
<line x1="291.20" y1="865.00" x2="306.00" y2="865.00" stroke="#000000" stroke-width="2.3" stroke-linecap="butt"/>
<circle cx="298.60" cy="859.32" r="5.55" fill="#ff8000"/>
<circle cx="298.60" cy="862.32" r="5.55" fill="#ff8000"/>
<circle cx="298.60" cy="865.33" r="5.55" fill="#ff8000"/>
<circle cx="298.60" cy="868.33" r="5.55" fill="#ff8000"/>
<circle cx="298.60" cy="871.33" r="5.55" fill="#ff8000"/>
<line x1="118.00" y1="822.00" x2="300.00" y2="822.00" stroke="#000000" stroke-width="3.8" stroke-linecap="butt"/>
<text x="211.00" y="820.00" font-size="22.4" text-anchor="middle">NS</text>
<text x="129.10" y="1019.30" font-size="20.3" text-anchor="end" transform="rotate(-45 129.10 1019.30)">DMSO</text>
<text x="173.10" y="1019.30" font-size="20.3" text-anchor="end" transform="rotate(-45 173.10 1019.30)">Pos Ctrl 1</text>
<text x="217.10" y="1019.30" font-size="20.3" text-anchor="end" transform="rotate(-45 217.10 1019.30)">Neg Ctrl 1</text>
<text x="261.10" y="1019.30" font-size="20.3" text-anchor="end" transform="rotate(-45 261.10 1019.30)">Pos Ctrl 2</text>
<text x="305.10" y="1019.30" font-size="20.3" text-anchor="end" transform="rotate(-45 305.10 1019.30)">Neg Ctrl 2</text>
<line x1="434.20" y1="793.90" x2="434.20" y2="994.70" stroke="#000000" stroke-width="2.8" stroke-linecap="butt"/>
<line x1="426.60" y1="993.30" x2="684.00" y2="993.30" stroke="#000000" stroke-width="2.8" stroke-linecap="butt"/>
<line x1="426.60" y1="927.30" x2="434.20" y2="927.30" stroke="#000000" stroke-width="2.8" stroke-linecap="butt"/>
<text x="423.8" y="934.50" font-size="20.3" text-anchor="end" letter-spacing="0.15">1×10<tspan font-size="13.5" dy="-6.5" dx="1.1">4</tspan></text>
<line x1="426.60" y1="861.30" x2="434.20" y2="861.30" stroke="#000000" stroke-width="2.8" stroke-linecap="butt"/>
<text x="423.8" y="868.50" font-size="20.3" text-anchor="end" letter-spacing="0.15">2×10<tspan font-size="13.5" dy="-6.5" dx="1.1">4</tspan></text>
<line x1="426.60" y1="795.30" x2="434.20" y2="795.30" stroke="#000000" stroke-width="2.8" stroke-linecap="butt"/>
<text x="423.8" y="802.50" font-size="20.3" text-anchor="end" letter-spacing="0.15">3×10<tspan font-size="13.5" dy="-6.5" dx="1.1">4</tspan></text>
<text x="422.00" y="1000.45" font-size="20.3" text-anchor="end">0</text>
<line x1="465.40" y1="993.30" x2="465.40" y2="1001.30" stroke="#000000" stroke-width="2.8" stroke-linecap="butt"/>
<line x1="511.90" y1="993.30" x2="511.90" y2="1001.30" stroke="#000000" stroke-width="2.8" stroke-linecap="butt"/>
<line x1="558.40" y1="993.30" x2="558.40" y2="1001.30" stroke="#000000" stroke-width="2.8" stroke-linecap="butt"/>
<line x1="604.90" y1="993.30" x2="604.90" y2="1001.30" stroke="#000000" stroke-width="2.8" stroke-linecap="butt"/>
<line x1="651.40" y1="993.30" x2="651.40" y2="1001.30" stroke="#000000" stroke-width="2.8" stroke-linecap="butt"/>
<text x="359.40" y="893.50" font-size="22" text-anchor="middle" transform="rotate(-90 359.40 893.50)">Fluorescence (AU)</text>
<path d="M451.52 992.20 V847.91 H479.27 V992.20" fill="none" stroke="#999999" stroke-width="2.65"/>
<line x1="465.40" y1="850.28" x2="465.40" y2="843.68" stroke="#999999" stroke-width="2.3" stroke-linecap="butt"/>
<line x1="457.80" y1="850.28" x2="473.00" y2="850.28" stroke="#999999" stroke-width="2.3" stroke-linecap="butt"/>
<line x1="457.80" y1="843.68" x2="473.00" y2="843.68" stroke="#999999" stroke-width="2.3" stroke-linecap="butt"/>
<circle cx="465.40" cy="818.60" r="5.55" fill="#999999"/>
<circle cx="465.40" cy="822.64" r="5.55" fill="#999999"/>
<circle cx="465.40" cy="826.69" r="5.55" fill="#999999"/>
<circle cx="465.40" cy="830.74" r="5.55" fill="#999999"/>
<circle cx="465.40" cy="834.78" r="5.55" fill="#999999"/>
<circle cx="465.40" cy="838.83" r="5.55" fill="#999999"/>
<circle cx="465.40" cy="842.88" r="5.55" fill="#999999"/>
<circle cx="465.40" cy="846.92" r="5.55" fill="#999999"/>
<circle cx="465.40" cy="850.97" r="5.55" fill="#999999"/>
<circle cx="465.40" cy="855.01" r="5.55" fill="#999999"/>
<circle cx="465.40" cy="859.06" r="5.55" fill="#999999"/>
<circle cx="465.40" cy="863.11" r="5.55" fill="#999999"/>
<circle cx="465.40" cy="867.15" r="5.55" fill="#999999"/>
<circle cx="465.40" cy="871.20" r="5.55" fill="#999999"/>
<circle cx="465.40" cy="911.33" r="5.55" fill="#999999"/>
<circle cx="465.40" cy="944.46" r="5.55" fill="#999999"/>
<path d="M498.02 992.20 V850.88 H525.77 V992.20" fill="none" stroke="#000000" stroke-width="2.65"/>
<line x1="511.90" y1="851.93" x2="511.90" y2="847.97" stroke="#000000" stroke-width="2.3" stroke-linecap="butt"/>
<line x1="504.30" y1="851.93" x2="519.50" y2="851.93" stroke="#000000" stroke-width="2.3" stroke-linecap="butt"/>
<line x1="504.30" y1="847.97" x2="519.50" y2="847.97" stroke="#000000" stroke-width="2.3" stroke-linecap="butt"/>
<circle cx="511.90" cy="828.56" r="5.55" fill="#000000"/>
<circle cx="511.90" cy="832.77" r="5.55" fill="#000000"/>
<circle cx="511.90" cy="836.98" r="5.55" fill="#000000"/>
<circle cx="511.90" cy="841.18" r="5.55" fill="#000000"/>
<circle cx="511.90" cy="845.39" r="5.55" fill="#000000"/>
<circle cx="511.90" cy="849.59" r="5.55" fill="#000000"/>
<circle cx="511.90" cy="853.80" r="5.55" fill="#000000"/>
<circle cx="511.90" cy="858.01" r="5.55" fill="#000000"/>
<circle cx="511.90" cy="862.21" r="5.55" fill="#000000"/>
<circle cx="511.90" cy="866.42" r="5.55" fill="#000000"/>
<circle cx="511.90" cy="870.62" r="5.55" fill="#000000"/>
<circle cx="511.90" cy="874.83" r="5.55" fill="#000000"/>
<path d="M544.52 992.20 V850.09 H572.27 V992.20" fill="none" stroke="#0d9c64" stroke-width="2.65"/>
<line x1="558.40" y1="851.80" x2="558.40" y2="846.52" stroke="#000000" stroke-width="2.3" stroke-linecap="butt"/>
<line x1="550.80" y1="851.80" x2="566.00" y2="851.80" stroke="#000000" stroke-width="2.3" stroke-linecap="butt"/>
<line x1="550.80" y1="846.52" x2="566.00" y2="846.52" stroke="#000000" stroke-width="2.3" stroke-linecap="butt"/>
<circle cx="558.40" cy="805.66" r="5.55" fill="#0d9c64"/>
<circle cx="558.40" cy="809.81" r="5.55" fill="#0d9c64"/>
<circle cx="558.40" cy="813.95" r="5.55" fill="#0d9c64"/>
<circle cx="558.40" cy="818.09" r="5.55" fill="#0d9c64"/>
<circle cx="558.40" cy="822.24" r="5.55" fill="#0d9c64"/>
<circle cx="558.40" cy="826.38" r="5.55" fill="#0d9c64"/>
<circle cx="558.40" cy="830.53" r="5.55" fill="#0d9c64"/>
<circle cx="558.40" cy="834.67" r="5.55" fill="#0d9c64"/>
<circle cx="558.40" cy="838.81" r="5.55" fill="#0d9c64"/>
<circle cx="558.40" cy="842.96" r="5.55" fill="#0d9c64"/>
<circle cx="558.40" cy="847.10" r="5.55" fill="#0d9c64"/>
<circle cx="558.40" cy="851.25" r="5.55" fill="#0d9c64"/>
<circle cx="558.40" cy="855.39" r="5.55" fill="#0d9c64"/>
<circle cx="558.40" cy="859.54" r="5.55" fill="#0d9c64"/>
<circle cx="558.40" cy="863.68" r="5.55" fill="#0d9c64"/>
<circle cx="558.40" cy="867.82" r="5.55" fill="#0d9c64"/>
<circle cx="558.40" cy="871.97" r="5.55" fill="#0d9c64"/>
<circle cx="558.40" cy="876.11" r="5.55" fill="#0d9c64"/>
<circle cx="558.40" cy="880.26" r="5.55" fill="#0d9c64"/>
<circle cx="558.40" cy="884.40" r="5.55" fill="#0d9c64"/>
<path d="M591.02 992.20 V842.30 H618.77 V992.20" fill="none" stroke="#ff0000" stroke-width="2.65"/>
<line x1="604.90" y1="844.01" x2="604.90" y2="838.73" stroke="#000000" stroke-width="2.3" stroke-linecap="butt"/>
<line x1="597.30" y1="844.01" x2="612.50" y2="844.01" stroke="#000000" stroke-width="2.3" stroke-linecap="butt"/>
<line x1="597.30" y1="838.73" x2="612.50" y2="838.73" stroke="#000000" stroke-width="2.3" stroke-linecap="butt"/>
<circle cx="604.90" cy="808.63" r="5.55" fill="#ff0000"/>
<circle cx="604.90" cy="812.51" r="5.55" fill="#ff0000"/>
<circle cx="604.90" cy="816.38" r="5.55" fill="#ff0000"/>
<circle cx="604.90" cy="820.26" r="5.55" fill="#ff0000"/>
<circle cx="604.90" cy="824.13" r="5.55" fill="#ff0000"/>
<circle cx="604.90" cy="828.00" r="5.55" fill="#ff0000"/>
<circle cx="604.90" cy="831.88" r="5.55" fill="#ff0000"/>
<circle cx="604.90" cy="835.75" r="5.55" fill="#ff0000"/>
<circle cx="604.90" cy="839.63" r="5.55" fill="#ff0000"/>
<circle cx="604.90" cy="843.50" r="5.55" fill="#ff0000"/>
<circle cx="604.90" cy="847.38" r="5.55" fill="#ff0000"/>
<circle cx="604.90" cy="851.25" r="5.55" fill="#ff0000"/>
<circle cx="604.90" cy="855.13" r="5.55" fill="#ff0000"/>
<circle cx="604.90" cy="859.00" r="5.55" fill="#ff0000"/>
<circle cx="604.90" cy="862.88" r="5.55" fill="#ff0000"/>
<circle cx="604.90" cy="866.75" r="5.55" fill="#ff0000"/>
<circle cx="604.90" cy="870.63" r="5.55" fill="#ff0000"/>
<circle cx="604.90" cy="874.50" r="5.55" fill="#ff0000"/>
<path d="M637.52 992.20 V978.85 H665.27 V992.20" fill="none" stroke="#ff8c1a" stroke-width="2.65"/>
<line x1="651.40" y1="979.25" x2="651.40" y2="976.61" stroke="#000000" stroke-width="2.3" stroke-linecap="butt"/>
<line x1="643.80" y1="979.25" x2="659.00" y2="979.25" stroke="#000000" stroke-width="2.3" stroke-linecap="butt"/>
<line x1="643.80" y1="976.61" x2="659.00" y2="976.61" stroke="#000000" stroke-width="2.3" stroke-linecap="butt"/>
<circle cx="651.40" cy="974.16" r="5.55" fill="#ff8000"/>
<circle cx="651.40" cy="977.13" r="5.55" fill="#ff8000"/>
<circle cx="651.40" cy="980.10" r="5.55" fill="#ff8000"/>
<line x1="463.60" y1="790.60" x2="605.00" y2="790.60" stroke="#000000" stroke-width="3.6" stroke-linecap="butt"/>
<text x="535.00" y="785.00" font-size="22.4" text-anchor="middle">NS</text>
<text x="650.60" y="970.70" font-size="27" text-anchor="middle">*</text>
<text x="471.90" y="1019.30" font-size="20.3" text-anchor="end" transform="rotate(-45 471.90 1019.30)">Untreated</text>
<text x="518.40" y="1019.30" font-size="20.3" text-anchor="end" transform="rotate(-45 518.40 1019.30)">DMSO</text>
<text x="564.90" y="1019.30" font-size="20.3" text-anchor="end" transform="rotate(-45 564.90 1019.30)">Pos Ctrl 2</text>
<text x="611.40" y="1019.30" font-size="20.3" text-anchor="end" transform="rotate(-45 611.40 1019.30)">Neg Ctrl 2</text>
<text x="657.90" y="1019.30" font-size="20.3" text-anchor="end" transform="rotate(-45 657.90 1019.30)">No Cells</text>
</svg>
</body>
</html>
